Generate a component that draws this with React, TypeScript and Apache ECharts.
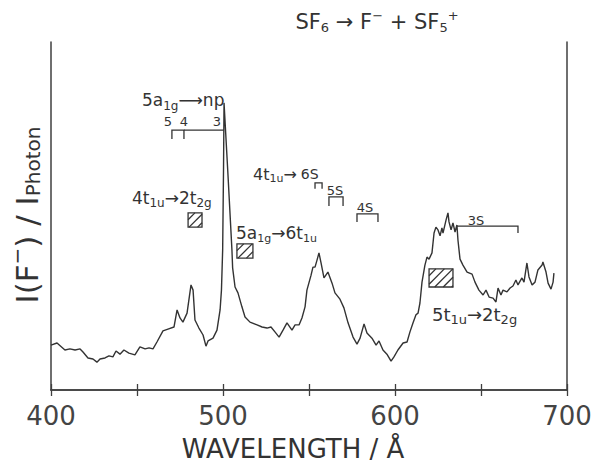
import React, { useEffect, useRef } from 'react';
import * as echarts from 'echarts';

// Photo-ion yield of F- from SF6 (arbitrary units) versus wavelength in Å
const wavelength = [
  400.0, 403.5, 408.1, 411.0, 414.0, 416.9, 418.6, 421.5, 424.4, 426.7,
  428.5, 431.4, 433.7, 436.0, 437.8, 440.1, 442.4, 445.3, 448.8, 451.7,
  454.7, 457.0, 459.3, 461.6, 465.1, 468.0, 471.5, 473.3, 475.0, 476.7,
  479.1, 481.4, 482.6, 483.7, 486.0, 488.4, 490.1, 491.3, 494.2, 496.5,
  498.3, 499.1, 499.8, 500.3, 500.6, 502.9, 505.2, 505.6, 507.0, 508.7,
  511.0, 512.8, 515.7, 519.8, 522.7, 525.6, 527.9, 530.2, 532.6, 534.9,
  537.2, 540.1, 541.9, 544.2, 545.9, 547.7, 548.8, 551.2, 552.3, 553.5,
  554.7, 555.8, 557.0, 558.7, 561.0, 563.4, 565.1, 568.0, 570.3, 572.7,
  575.6, 577.9, 579.7, 582.0, 583.7, 586.6, 589.0, 590.7, 593.0, 595.3,
  597.7, 599.4, 601.7, 604.7, 607.0, 608.7, 610.5, 612.2, 613.4, 614.5,
  615.7, 617.4, 618.6, 619.8, 621.5, 622.7, 623.8, 625.0, 626.2, 627.3,
  627.9, 629.7, 630.8, 631.4, 632.6, 633.7, 634.9, 636.0, 636.6, 637.8,
  639.5, 641.9, 644.8, 646.5, 648.8, 651.2, 652.9, 654.7, 657.0, 658.7,
  659.9, 661.6, 662.8, 665.1, 666.9, 668.6, 670.3, 671.5, 673.8, 675.0,
  676.7, 677.9, 679.7, 681.4, 683.1, 685.5, 686.0, 687.8, 689.0, 690.7,
  691.9, 692.4,
];

const intensity = [
  12.9, 13.5, 11.5, 11.8, 11.5, 11.8, 10.9, 9.2, 8.9, 8.0,
  8.9, 9.2, 9.8, 9.5, 11.2, 10.3, 11.5, 10.6, 10.1, 12.4,
  11.8, 12.1, 11.8, 13.8, 17.0, 17.5, 18.1, 23.0, 20.7, 19.5,
  22.1, 30.2, 28.7, 20.1, 17.8, 15.8, 12.6, 14.1, 14.9, 17.2,
  23.0, 28.7, 40.2, 63.2, 82.5, 61.8, 40.2, 35.1, 29.6, 27.9,
  23.9, 21.0, 19.5, 18.7, 18.1, 17.8, 18.1, 16.7, 15.2, 17.2,
  19.3, 17.2, 18.7, 18.7, 20.7, 23.9, 28.7, 33.0, 35.3, 35.3,
  37.4, 39.4, 36.5, 32.2, 33.9, 30.7, 27.9, 26.1, 23.6, 19.3,
  15.2, 13.2, 14.9, 19.0, 16.4, 14.9, 12.9, 14.1, 11.5, 10.3,
  8.3, 9.5, 11.5, 13.5, 13.8, 16.7, 19.3, 21.6, 22.1, 25.0,
  31.0, 35.9, 38.2, 37.6, 39.4, 45.1, 46.8, 46.0, 44.3, 46.6,
  45.1, 48.9, 50.9, 48.3, 46.0, 48.0, 45.4, 47.4, 43.1, 37.6,
  35.9, 33.9, 33.3, 31.0, 28.7, 27.3, 28.7, 26.7, 26.4, 25.3,
  29.3, 27.3, 28.7, 28.2, 29.3, 29.9, 31.6, 30.2, 32.2, 31.0,
  36.5, 32.5, 30.2, 31.0, 34.5, 35.9, 36.8, 33.9, 30.7, 29.0,
  31.0, 33.6,
];

const xTickLabels = [400, 500, 600, 700];

// Rydberg-series brackets: [from Å, to Å, bar level, leg end, legs (1 = left, 2 = right)]
const npBrackets = [
  [470.3, 477.3, 74.7, 72.1, 3],
  [477.3, 500.6, 74.7, 72.1, 0],
];
const sBrackets = [
  [553.5, 557.6, 59.5, 57.8, 3],
  [561.6, 569.8, 55.5, 52.9, 3],
  [577.9, 590.1, 50.6, 48.3, 3],
  [636.0, 671.5, 47.1, 45.1, 2],
];

// Hatched boxes marking resonance positions: [from Å, to Å, top, bottom]
const resonanceBoxes = [
  [479.7, 487.8, 50.9, 46.8],
  [508.1, 517.4, 42.0, 37.9],
  [619.8, 633.7, 34.8, 29.6],
];

const INK = '#333333';
const AXIS = '#3f3f3f';
const FONT = 'DejaVu Sans';

const richStyles = (main: number, sub: number, drop: number, rise: number) => ({
  sub: { fontSize: sub, fontFamily: FONT, padding: [drop * 2, 0, 0, 0] },
  sup: { fontSize: sub, fontFamily: FONT, padding: [0, 0, rise * 2, 0] },
  lv: { fontSize: main - 2, fontFamily: FONT, padding: [0, 0, 0, 4] },
});

const label = (
  text: string,
  x: number,
  y: number,
  size: number,
  sub: number,
  drop: number,
  align: string = 'left',
  rotation = 0,
  rise = drop
) => ({
  type: 'text',
  x,
  y,
  rotation,
  silent: true,
  style: {
    text,
    fontSize: size,
    fontFamily: FONT,
    fill: INK,
    align,
    verticalAlign: 'middle',
    textAlign: align,
    textVerticalAlign: 'middle',
    rich: richStyles(size, sub, drop, rise),
  },
});

function bracketItem(params: any, api: any) {
  const x1 = api.value(0);
  const x2 = api.value(1);
  const yTop = api.value(2);
  const yLeg = api.value(3);
  const legs = api.value(4);
  const a = api.coord([x1, yTop]);
  const b = api.coord([x2, yTop]);
  const legY = api.coord([x1, yLeg])[1];
  const pts: number[][] = [];
  if (legs & 1) pts.push([a[0], legY]);
  pts.push([a[0], a[1]], [b[0], b[1]]);
  if (legs & 2) pts.push([b[0], legY]);
  return {
    type: 'polyline',
    shape: { points: pts },
    style: { stroke: INK, fill: 'none', lineWidth: 1.3 },
  };
}

function hatchItem(params: any, api: any) {
  const p0 = api.coord([api.value(0), api.value(2)]);
  const p1 = api.coord([api.value(1), api.value(3)]);
  const x0 = p0[0], y0 = p0[1], x1 = p1[0], y1 = p1[1];
  const children: any[] = [
    {
      type: 'rect',
      shape: { x: x0, y: y0, width: x1 - x0, height: y1 - y0 },
      style: { fill: '#ffffff', stroke: INK, lineWidth: 1.3 },
    },
  ];
  const step = 8.5;
  for (let c = x0 + y0 + step * 0.8; c < x1 + y1; c += step) {
    const xs = Math.max(x0, c - y1);
    const xe = Math.min(x1, c - y0);
    if (xe - xs > 1) {
      children.push({
        type: 'line',
        shape: { x1: xs, y1: c - xs, x2: xe, y2: c - xe },
        style: { stroke: INK, lineWidth: 1.3 },
      });
    }
  }
  return { type: 'group', children };
}

const frameAxis = (position: string) => ({
  type: 'value',
  position,
  min: 400,
  max: 700,
  interval: 50,
  axisLine: { show: true, lineStyle: { color: AXIS, width: 1.5 } },
  axisTick: { show: true, inside: true, length: 6, lineStyle: { color: AXIS, width: 1.3 } },
  splitLine: { show: false },
});

const option = {
  animation: false,
  backgroundColor: '#ffffff',
  grid: { left: 51, right: 28, top: 42, bottom: 73, containLabel: false },
  xAxis: [
    {
      ...frameAxis('bottom'),
      axisLabel: {
        show: true,
        margin: 13,
        fontSize: 26,
        fontFamily: FONT,
        color: '#444444',
        showMinLabel: true,
        showMaxLabel: true,
        formatter: (v: number) => (xTickLabels.includes(v) ? String(v) : ''),
      },
    },
    { ...frameAxis('top'), axisLabel: { show: false } },
  ],
  yAxis: [
    {
      type: 'value',
      position: 'left',
      min: 0,
      max: 100,
      axisLine: { show: true, lineStyle: { color: AXIS, width: 1.5 } },
      axisTick: { show: false },
      axisLabel: { show: false },
      splitLine: { show: false },
    },
    {
      type: 'value',
      position: 'right',
      min: 0,
      max: 100,
      axisLine: { show: true, lineStyle: { color: AXIS, width: 1.5 } },
      axisTick: { show: false },
      axisLabel: { show: false },
      splitLine: { show: false },
    },
  ],
  series: [
    {
      type: 'line',
      data: wavelength.map((w, i) => [w, intensity[i]]),
      showSymbol: false,
      symbol: 'none',
      lineStyle: { color: INK, width: 1.4 },
      z: 3,
    },
    {
      type: 'custom',
      data: [...npBrackets, ...sBrackets],
      encode: { x: [0, 1], y: [2, 3] },
      renderItem: bracketItem,
      silent: true,
      clip: false,
      z: 4,
    },
    {
      type: 'custom',
      data: resonanceBoxes,
      encode: { x: [0, 1], y: [2, 3] },
      renderItem: hatchItem,
      silent: true,
      clip: false,
      z: 4,
    },
  ],
  graphic: [
    label('SF{sub|6} → F{sup|−} + SF{sub|5}{sup|+}', 377, 22, 21, 13, 5, 'center', 0, 7),
    label('I(F{sup|−}) / I{sub|Photon}', 27, 215, 31, 20, 6, 'center', Math.PI / 2, 10),
    label('WAVELENGTH / Å', 293, 449, 26, 16, 4, 'center'),
    label('5a{sub|1g}⟶np', 142, 100, 17, 12, 6),
    label('5', 168, 121, 13, 9, 2, 'center'),
    label('4', 184, 121, 13, 9, 2, 'center'),
    label('3', 217, 121, 13, 9, 2, 'center'),
    label('4t{sub|1u}→2t{sub|2g}', 132, 198, 17, 12, 5),
    label('5a{sub|1g}→6t{sub|1u}', 236, 233, 17, 11, 5),
    label('4t{sub|1u}→{lv|6S}', 253, 174, 16, 11, 4),
    label('5S', 335, 190, 13, 9, 2, 'center'),
    label('4S', 365, 207, 13, 9, 2, 'center'),
    label('3S', 476, 220, 13, 9, 2, 'center'),
    label('5t{sub|1u}→2t{sub|2g}', 432, 314, 18, 13, 5),
  ],
};

export default function App() {
  const ref = useRef<HTMLDivElement>(null);
  useEffect(() => {
    const chart = echarts.init(ref.current!, null, { renderer: 'svg' });
    chart.setOption(option as any);
    return () => chart.dispose();
  }, []);
  return (
    <div
      ref={ref}
      style={{ position: 'fixed', left: 0, top: 0, width: 595, height: 463, background: '#fff' }}
    />
  );
}
